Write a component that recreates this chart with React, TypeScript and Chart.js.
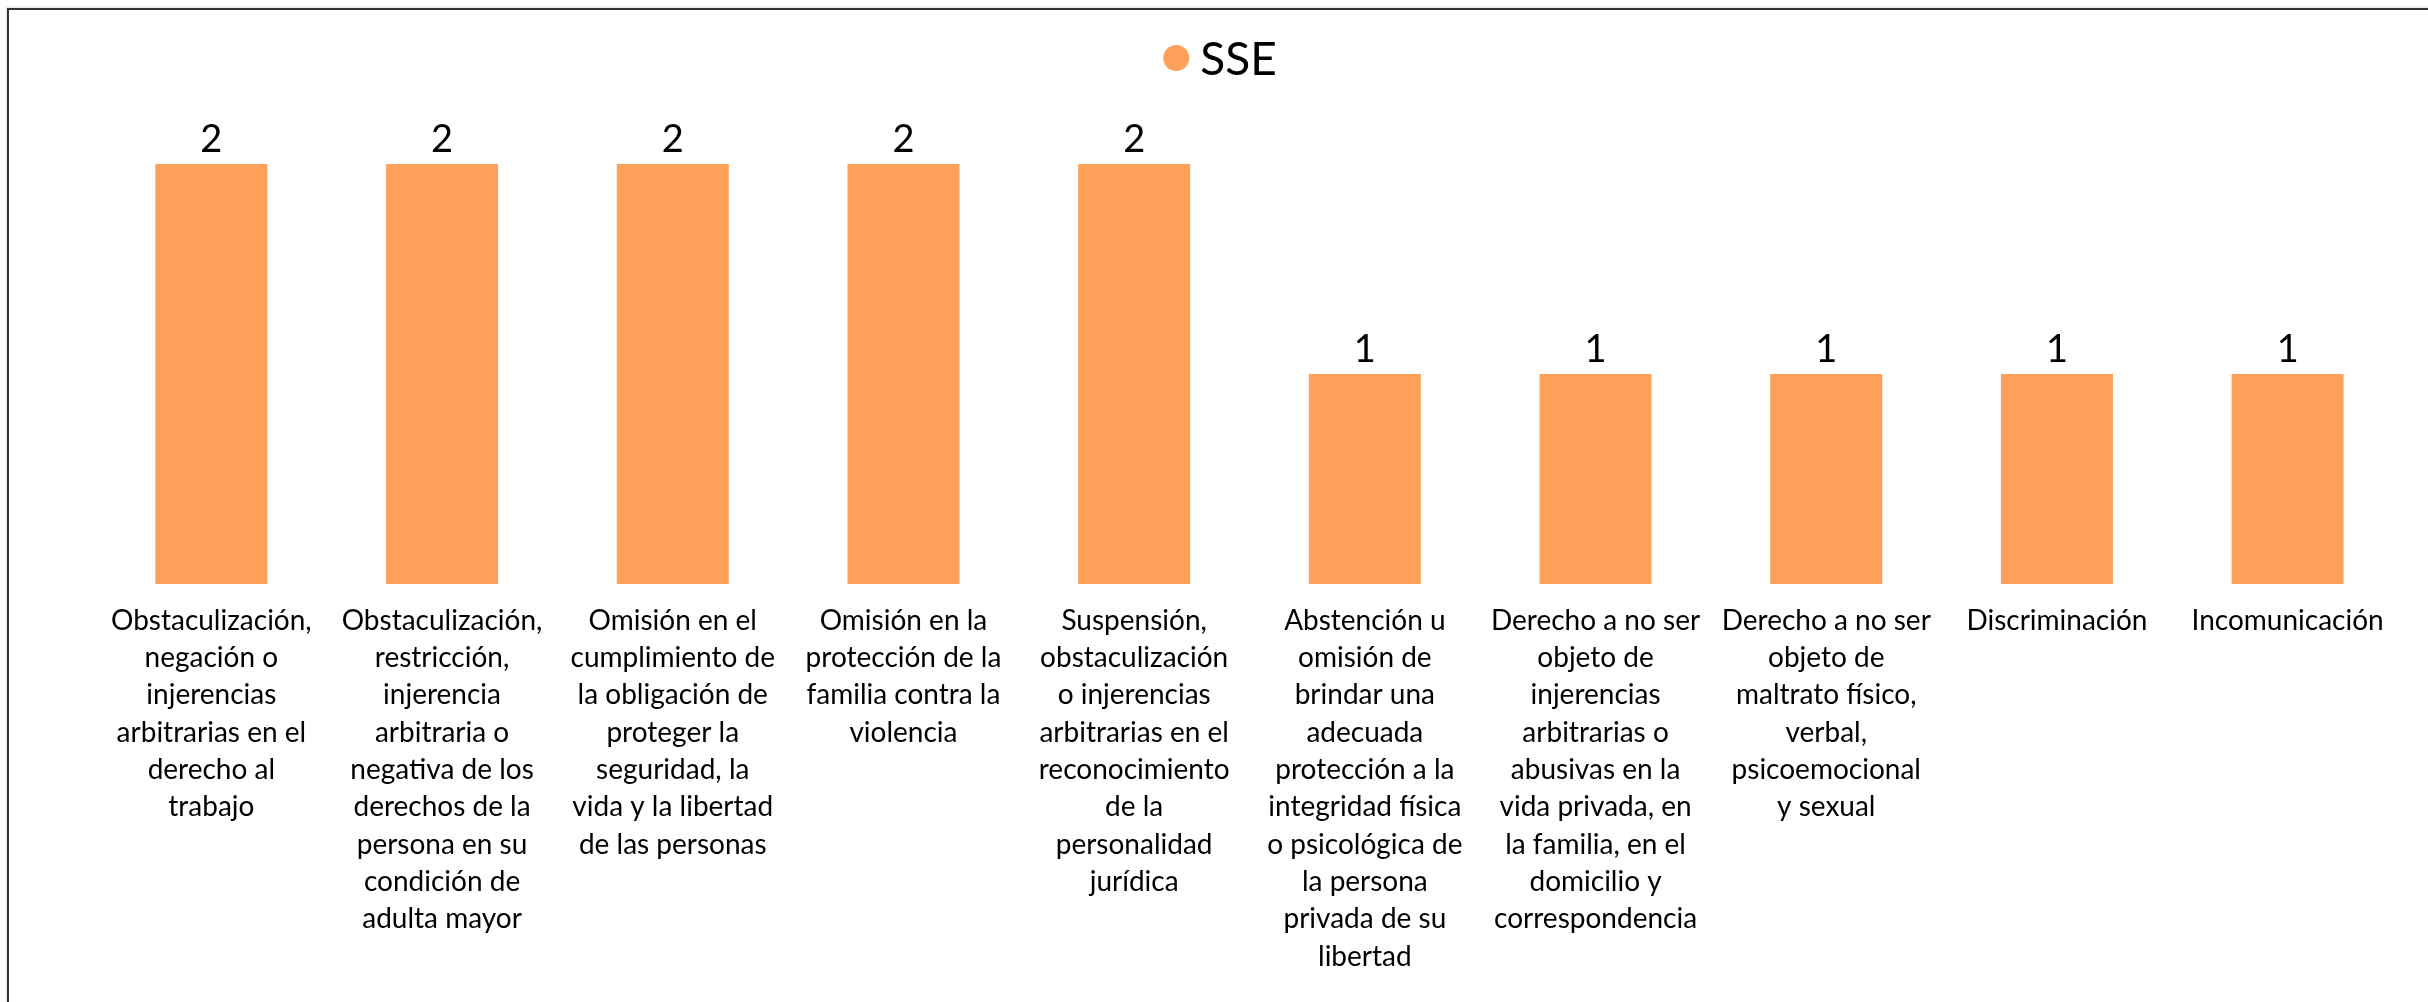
import React, { useEffect, useRef } from "react";
import { Chart, registerables } from "chart.js";

Chart.register(...registerables);

const seriesName = "SSE";
const categories: string[][] = [
  ["Obstaculización,", "negación o", "injerencias", "arbitrarias en el", "derecho al", "trabajo"],
  ["Obstaculización,", "restricción,", "injerencia", "arbitraria o", "negativa de los", "derechos de la", "persona en su", "condición de", "adulta mayor"],
  ["Omisión en el", "cumplimiento de", "la obligación de", "proteger la", "seguridad, la", "vida y la libertad", "de las personas"],
  ["Omisión en la", "protección de la", "familia contra la", "violencia"],
  ["Suspensión,", "obstaculización", "o injerencias", "arbitrarias en el", "reconocimiento", "de la", "personalidad", "jurídica"],
  ["Abstención u", "omisión de", "brindar una", "adecuada", "protección a la", "integridad física", "o psicológica de", "la persona", "privada de su", "libertad"],
  ["Derecho a no ser", "objeto de", "injerencias", "arbitrarias o", "abusivas en la", "vida privada, en", "la familia, en el", "domicilio y", "correspondencia"],
  ["Derecho a no ser", "objeto de", "maltrato físico,", "verbal,", "psicoemocional", "y sexual"],
  ["Discriminación"],
  ["Incomunicación"],
];
const values: number[] = [2, 2, 2, 2, 2, 1, 1, 1, 1, 1];

const BAR_COLOR = "#FFA05A";
const FONT = "Lato, 'Open Sans', sans-serif";

const W = 2428;
const H = 1002;
const Y_MAX = 2.2;

const valueLabelPlugin = {
  id: "valueLabels",
  afterDatasetsDraw(chart: any) {
    const ctx = chart.ctx;
    const meta = chart.getDatasetMeta(0);
    const data = chart.data.datasets[0].data as number[];
    ctx.save();
    ctx.font = `38px ${FONT}`;
    ctx.fillStyle = "#000";
    ctx.textAlign = "center";
    ctx.textBaseline = "alphabetic";
    meta.data.forEach((bar: any, i: number) => {
      ctx.fillText(String(data[i]), bar.x, bar.y - 12);
    });
    ctx.restore();
  },
};

const legendPlugin = {
  id: "customLegend",
  afterDraw(chart: any) {
    const ctx = chart.ctx;
    const ds = chart.data.datasets[0];
    ctx.save();
    ctx.font = `46px ${FONT}`;
    const tw = ctx.measureText(ds.label).width;
    const r = 13;
    const gap = 24;
    const total = r + gap + tw;
    const cx = chart.width / 2 + 6;
    const startX = cx - total / 2 + r;
    const cy = 58;
    ctx.fillStyle = ds.backgroundColor;
    ctx.beginPath();
    ctx.arc(startX, cy, r, 0, Math.PI * 2);
    ctx.fill();
    ctx.fillStyle = "#000";
    ctx.textAlign = "left";
    ctx.textBaseline = "alphabetic";
    ctx.fillText(ds.label, startX + gap, cy + 17);
    ctx.restore();
  },
};

export default function App() {
  const ref = useRef<HTMLCanvasElement | null>(null);

  useEffect(() => {
    document.body.style.margin = "0";
    const canvas = ref.current;
    if (!canvas) return;
    const chart = new Chart(canvas, {
      type: "bar",
      data: {
        labels: categories,
        datasets: [
          {
            label: seriesName,
            data: values,
            backgroundColor: BAR_COLOR,
            borderWidth: 0,
            categoryPercentage: 1,
            barPercentage: 0.4855,
          },
        ],
      },
      options: {
        responsive: false,
        animation: false,
        devicePixelRatio: 1,
        layout: {
          padding: { left: 96, right: 25, top: 584 - 210 * Y_MAX, bottom: 0 },
        },
        plugins: {
          legend: { display: false },
          tooltip: { enabled: false },
          title: { display: false },
        },
        scales: {
          x: {
            grid: { display: false, drawTicks: false },
            border: { display: false },
            ticks: {
              autoSkip: false,
              maxRotation: 0,
              minRotation: 0,
              padding: 18,
              color: "#000",
              font: { family: FONT, size: 28, lineHeight: 1.333 },
            },
            afterFit: (scale: any) => {
              scale.height = H - 584;
            },
          },
          y: {
            display: false,
            min: 0,
            max: Y_MAX,
          },
        },
      },
      plugins: [valueLabelPlugin, legendPlugin],
    });
    return () => chart.destroy();
  }, []);

  return (
    <div
      style={{
        position: "fixed",
        left: 0,
        top: 0,
        width: W,
        height: H,
        background: "#fff",
        overflow: "hidden",
      }}
    >
      <canvas ref={ref} width={W} height={H} style={{ position: "absolute", left: 0, top: 0, width: W, height: H }} />
      <div
        style={{
          position: "absolute",
          left: 7,
          top: 8,
          right: -10,
          bottom: -10,
          borderTop: "2px solid #333",
          borderLeft: "2px solid #333",
          boxShadow: "-1px -1px 2px rgba(0,0,0,0.15)",
          pointerEvents: "none",
        }}
      />
    </div>
  );
}
